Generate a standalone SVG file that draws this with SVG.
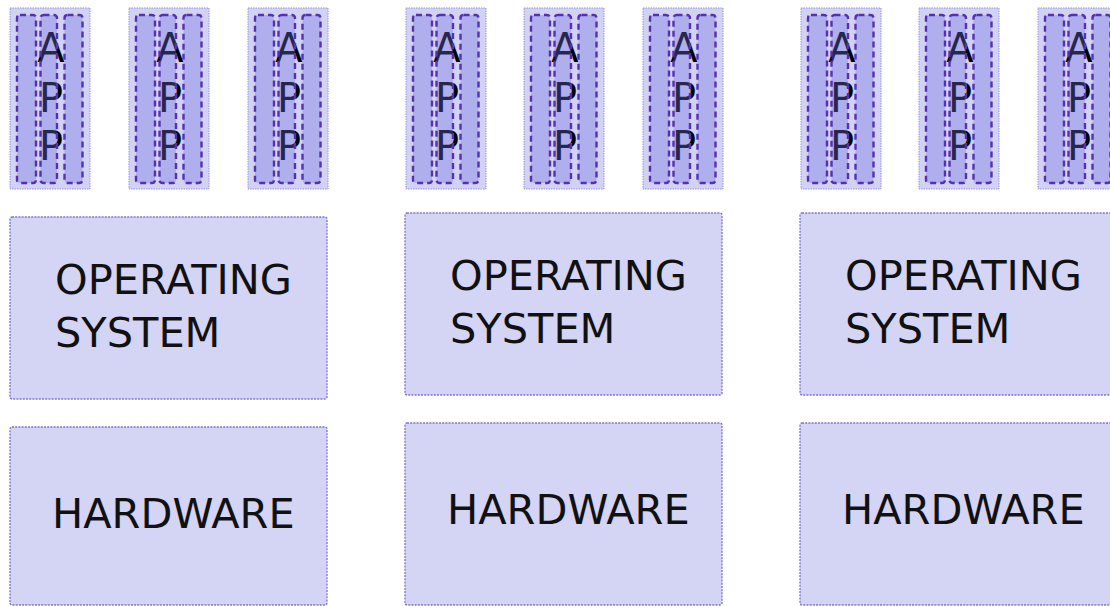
<svg xmlns="http://www.w3.org/2000/svg" width="1110" height="606" viewBox="0 0 1110 606">
<defs>
<style>
.box{fill:#d4d4f5;stroke:#7f70d4;stroke-width:1.3;stroke-dasharray:2 1.2}
.app{fill:#d2d2f5;stroke:#9a90dc;stroke-width:1;stroke-dasharray:1.5 1}
.lane{fill:#7070e0;fill-opacity:0.35;stroke:#5530b0;stroke-width:2.4;stroke-dasharray:6 4}
.t{font-family:"DejaVu Sans",sans-serif;font-size:41.5px;fill:#111}
.a{font-family:"DejaVu Sans",sans-serif;font-size:40px;fill:#000;text-anchor:middle}
</style>
<g id="appShape">
<rect class="app" x="0" y="0" width="80" height="181"/>
<text class="a" x="41" y="54">A</text>
<text class="a" x="41" y="104">P</text>
<text class="a" x="41" y="152">P</text>
<rect class="lane" x="7" y="7" width="19" height="168" rx="3"/>
<rect class="lane" x="30.5" y="7" width="16.5" height="168" rx="3"/>
<rect class="lane" x="54.5" y="7" width="18" height="168" rx="3"/>
</g>
</defs>
<g id="app1"><use href="#appShape" x="10" y="8"/></g>
<g id="app2"><use href="#appShape" x="129" y="8"/></g>
<g id="app3"><use href="#appShape" x="248" y="8"/></g>
<g id="app4"><use href="#appShape" x="406" y="8"/></g>
<g id="app5"><use href="#appShape" x="524" y="8"/></g>
<g id="app6"><use href="#appShape" x="643" y="8"/></g>
<g id="app7"><use href="#appShape" x="801" y="8"/></g>
<g id="app8"><use href="#appShape" x="919" y="8"/></g>
<g id="app9"><use href="#appShape" x="1038" y="8"/></g>

<g id="os1"><rect class="box" x="10" y="217" width="317" height="182" rx="2"/>
<text class="t" x="55" y="294">OPERATING</text><text class="t" x="55" y="347">SYSTEM</text></g>
<g id="os2"><rect class="box" x="405" y="213" width="317" height="182" rx="2"/>
<text class="t" x="450" y="290">OPERATING</text><text class="t" x="450" y="343">SYSTEM</text></g>
<g id="os3"><rect class="box" x="800" y="213" width="317" height="182" rx="2"/>
<text class="t" x="845" y="290">OPERATING</text><text class="t" x="845" y="343">SYSTEM</text></g>

<g id="hw1"><rect class="box" x="10" y="427" width="317" height="178" rx="2"/>
<text class="t" x="52" y="528">HARDWARE</text></g>
<g id="hw2"><rect class="box" x="405" y="423" width="317" height="182" rx="2"/>
<text class="t" x="447" y="524">HARDWARE</text></g>
<g id="hw3"><rect class="box" x="800" y="423" width="317" height="182" rx="2"/>
<text class="t" x="842" y="524">HARDWARE</text></g>
<g id="connectors"/>
</svg>
